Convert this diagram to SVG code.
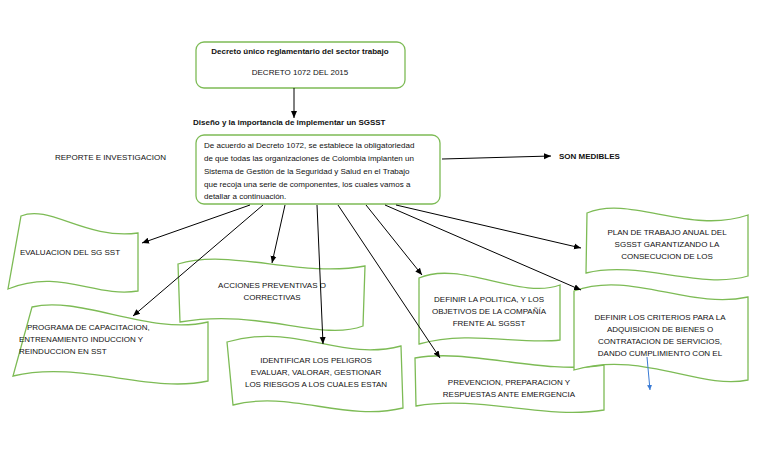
<svg xmlns="http://www.w3.org/2000/svg" width="768" height="466" viewBox="0 0 768 466">
<defs>
<marker id="ah" markerWidth="8" markerHeight="8" refX="7" refY="4" orient="auto" markerUnits="userSpaceOnUse"><path d="M0,1 L7,4 L0,7 Z" fill="#000"/></marker>
<marker id="ahb" markerWidth="6" markerHeight="6" refX="5" refY="3" orient="auto" markerUnits="userSpaceOnUse"><path d="M0,0.5 L5,3 L0,5.5 Z" fill="#3a7bd5"/></marker>
<style>
.bx{fill:#fff;stroke:#7dbb55;stroke-width:1.3}
.t{font-family:"Liberation Sans",Arial,sans-serif;font-size:8px;fill:#111}
.c{stroke:#000;stroke-width:1;fill:none;marker-end:url(#ah)}
</style>
</defs>
<rect width="768" height="466" fill="#fff"/>
<g id="decreto">
<rect class="bx" x="196" y="42" width="209" height="46" rx="8"/>
<text class="t" x="300" y="54" text-anchor="middle" font-weight="bold" font-size="8.5">Decreto único reglamentario del sector trabajo</text>
<text class="t" x="300" y="75" text-anchor="middle">DECRETO 1072 DEL 2015</text>
</g>
<g id="titulo"><text class="t" x="193" y="125" font-weight="bold" font-size="9">Diseño y la importancia de  implementar un SGSST</text></g>
<g id="central">
<rect class="bx" x="196" y="135" width="244" height="69" rx="8"/>
<text class="t" x="204" y="148">De acuerdo al Decreto 1072, se establece la obligatoriedad</text>
<text class="t" x="204" y="161">de que todas las organizaciones de Colombia implanten un</text>
<text class="t" x="204" y="174">Sistema de Gestión de la Seguridad y Salud en el Trabajo</text>
<text class="t" x="204" y="187">que recoja una serie de componentes, los cuales vamos a</text>
<text class="t" x="204" y="199">detallar a continuación.</text>
</g>
<g id="reporte"><text class="t" x="55" y="160" font-size="6">REPORTE E INVESTIGACION</text></g>
<g id="medibles"><text class="t" x="559" y="159" font-weight="bold" font-size="9">SON MEDIBLES</text></g>
<g id="evaluacion">
<path class="bx" d="M21,216 C50,204 85,240 138,233 L138,291 C95,298 60,268 8,289 Z"/>
<text class="t" x="20" y="255">EVALUACION DEL SG SST</text>
</g>
<g id="acciones">
<path class="bx" d="M178,264 C230,248 300,278 365,266 L363,326 C320,342 260,308 180,322 Z"/>
<text class="t" x="272" y="288" text-anchor="middle">ACCIONES PREVENTIVAS O</text>
<text class="t" x="272" y="300" text-anchor="middle">CORRECTIVAS</text>
</g>
<g id="programa">
<path class="bx" d="M32,307 C80,295 150,336 208,322 L208,381 C150,394 80,360 13,376 Z"/>
<text class="t" x="27" y="330">PROGRAMA DE CAPACITACION,</text>
<text class="t" x="19" y="342">ENTRENAMIENTO INDUCCION Y</text>
<text class="t" x="19" y="354">REINDUCCION EN SST</text>
</g>
<g id="identificar">
<path class="bx" d="M227,342 C295,322 340,362 401,346 L403,408 C345,422 290,390 233,405 Z"/>
<text class="t" x="316" y="363" text-anchor="middle">IDENTIFICAR LOS PELIGROS</text>
<text class="t" x="316" y="375" text-anchor="middle">EVALUAR, VALORAR, GESTIONAR</text>
<text class="t" x="316" y="387" text-anchor="middle">LOS RIESGOS A LOS CUALES ESTAN</text>
</g>
<g id="politica">
<path class="bx" d="M419,278 C460,260 520,300 560,285 L560,340 C520,345 470,330 419,344 Z"/>
<text class="t" x="489" y="302" text-anchor="middle">DEFINIR LA POLITICA, Y LOS</text>
<text class="t" x="489" y="314" text-anchor="middle">OBJETIVOS DE LA COMPAÑÍA</text>
<text class="t" x="489" y="326" text-anchor="middle">FRENTE AL SGSST</text>
</g>
<g id="prevencion">
<path class="bx" d="M415,358 C470,348 540,375 604,365 L604,410 C545,420 480,395 416,406 Z"/>
<text class="t" x="509" y="385" text-anchor="middle">PREVENCION,  PREPARACION Y</text>
<text class="t" x="509" y="397" text-anchor="middle">RESPUESTAS ANTE EMERGENCIA</text>
</g>
<g id="plan">
<path class="bx" d="M587,213 C630,195 690,235 748,215 L748,276 C700,290 640,260 586,273 Z"/>
<text class="t" x="667" y="235" text-anchor="middle">PLAN DE TRABAJO  ANUAL DEL</text>
<text class="t" x="667" y="247" text-anchor="middle">SGSST GARANTIZANDO LA</text>
<text class="t" x="667" y="259" text-anchor="middle">CONSECUCION DE LOS</text>
</g>
<g id="criterios">
<path class="bx" d="M574,291 C630,270 690,310 748,297 L748,380 C700,390 640,350 574,370 Z"/>
<text class="t" x="660" y="320" text-anchor="middle">DEFINIR LOS CRITERIOS PARA LA</text>
<text class="t" x="660" y="332" text-anchor="middle">ADQUISICION DE BIENES O</text>
<text class="t" x="660" y="344" text-anchor="middle">CONTRATACION DE SERVICIOS,</text>
<text class="t" x="660" y="356" text-anchor="middle">DANDO CUMPLIMIENTO CON EL</text>
</g>
<g id="connectors">
<line class="c" x1="294" y1="88" x2="294" y2="118"/>
<line class="c" x1="250" y1="205" x2="142" y2="243"/>
<line class="c" x1="263" y1="205" x2="133" y2="316"/>
<line class="c" x1="285" y1="205" x2="272" y2="263"/>
<line class="c" x1="317" y1="205" x2="323" y2="344"/>
<line class="c" x1="338" y1="205" x2="440" y2="358"/>
<line class="c" x1="366" y1="205" x2="422" y2="275"/>
<line class="c" x1="396" y1="205" x2="581" y2="248"/>
<line class="c" x1="385" y1="205" x2="581" y2="290"/>
<line class="c" x1="442" y1="159" x2="551" y2="156"/>
<line x1="647" y1="357" x2="650" y2="390" stroke="#3a7bd5" stroke-width="1" marker-end="url(#ahb)"/>
</g>
</svg>
